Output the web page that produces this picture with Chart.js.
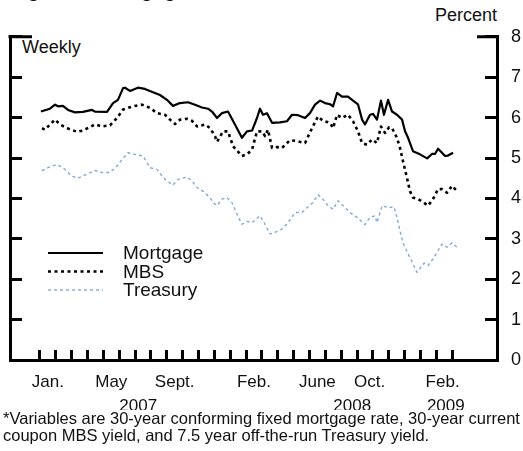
<!DOCTYPE html>
<html>
<head>
<meta charset="utf-8">
<script src="https://cdn.jsdelivr.net/npm/chart.js@4.4.1/dist/chart.umd.min.js"></script>
<style>
  html, body { margin: 0; padding: 0; background: #fff; }
  body { width: 523px; height: 451px; overflow: hidden; position: relative; font-family: "Liberation Sans", Arial, sans-serif; color: #111; }
  canvas { position: absolute; left: 0; top: 0; }
  .txt { position: absolute; white-space: nowrap; }
  #title { left: 10px; top: -21px; font-size: 21px; line-height: 21px; }
  #percent { left: 435px; top: 6px; font-size: 18px; line-height: 18px; }
  #weekly { left: 22px; top: 38px; font-size: 18px; line-height: 18px; }
  #note { left: 0; top: 410px; width: 520px; padding-left: 3px; background: #fff; font-size: 16.5px; line-height: 17px; }
</style>
</head>
<body>
<div class="txt" id="title">Figure 4: Mortgage Rates*</div>
<div class="txt" id="percent">Percent</div>
<div class="txt" id="weekly">Weekly</div>
<canvas id="chart" width="523" height="451"></canvas>
<div class="txt" id="note">*Variables are 30-year conforming fixed mortgage rate, 30-year current<br>coupon MBS yield, and 7.5 year off-the-run Treasury yield.</div>
<script>
const mortgageMonths = [0.06, 0.63, 0.95, 1.14, 1.45, 1.77, 2.21, 2.71, 3.28, 3.47, 4.23, 4.61, 4.92, 5.24, 5.36, 5.68, 6.18, 6.62, 7.13, 7.57,
  8.01, 8.39, 8.83, 9.34, 9.78, 10.22, 10.60, 10.85, 11.17, 11.48, 11.86, 12.30, 12.74, 13.06, 13.38, 13.69, 13.88, 14.07, 14.32, 14.64,
  15.14, 15.58, 15.90, 16.28, 16.72, 17.03, 17.35, 17.67, 17.98, 18.30, 18.49, 18.74, 19.05, 19.43, 19.75, 20.06, 20.32, 20.50, 20.82, 21.01,
  21.26, 21.51, 21.70, 21.96, 22.21, 22.52, 22.84, 23.03, 23.22, 23.53, 23.97, 24.42, 24.73, 24.92, 25.11, 25.36, 25.55, 25.74, 26.06];
const mortgageRate = [6.15, 6.22, 6.32, 6.28, 6.29, 6.19, 6.13, 6.14, 6.19, 6.15, 6.14, 6.36, 6.44, 6.73, 6.74, 6.66, 6.74, 6.71, 6.63, 6.56,
  6.44, 6.29, 6.36, 6.38, 6.32, 6.25, 6.22, 6.15, 5.99, 6.11, 6.15, 5.83, 5.50, 5.66, 5.68, 5.99, 6.22, 6.07, 6.11, 5.87,
  5.88, 5.91, 6.07, 6.06, 5.99, 6.11, 6.32, 6.42, 6.36, 6.33, 6.28, 6.61, 6.52, 6.52, 6.42, 6.33, 5.95, 5.83, 6.07, 6.09,
  5.95, 6.42, 6.07, 6.44, 6.15, 6.07, 5.95, 5.66, 5.50, 5.17, 5.09, 4.99, 5.10, 5.10, 5.23, 5.13, 5.05, 5.06, 5.13];

const mbsMonths = [0.13, 0.32, 0.63, 0.95, 1.26, 1.77, 2.33, 2.71, 3.47, 3.91, 4.42, 4.86, 5.24, 5.87, 6.44, 6.94, 7.38, 7.89, 8.20, 8.52,
  8.83, 9.27, 9.59, 9.91, 10.41, 10.73, 11.04, 11.17, 11.55, 11.86, 12.18, 12.74, 13.06, 13.38, 13.69, 14.01, 14.20, 14.38, 14.64, 14.95,
  15.27, 15.77, 16.21, 16.72, 17.16, 17.54, 17.85, 18.30, 18.49, 18.74, 19.05, 19.43, 19.75, 20.06, 20.32, 20.63, 20.95, 21.26, 21.51, 21.77,
  22.02, 22.21, 22.52, 22.71, 22.90, 23.15, 23.34, 23.53, 23.85, 24.16, 24.48, 24.79, 25.11, 25.36, 25.68, 25.99, 26.31];
const mbsYield = [5.74, 5.70, 5.83, 5.95, 5.83, 5.73, 5.65, 5.68, 5.83, 5.78, 5.81, 5.99, 6.20, 6.28, 6.32, 6.24, 6.11, 6.07, 5.95, 5.84,
  5.95, 5.97, 5.92, 5.78, 5.83, 5.74, 5.54, 5.40, 5.66, 5.66, 5.29, 5.05, 5.09, 5.21, 5.66, 5.66, 5.54, 5.70, 5.25, 5.27,
  5.25, 5.44, 5.42, 5.37, 5.74, 6.03, 5.92, 5.87, 5.74, 6.07, 5.99, 6.07, 5.91, 5.66, 5.37, 5.33, 5.46, 5.37, 5.78, 5.62,
  5.76, 5.74, 5.50, 5.25, 4.92, 4.51, 4.18, 4.02, 3.98, 3.91, 3.82, 3.98, 4.23, 4.23, 4.14, 4.31, 4.18];

const treasuryMonths = [0.13, 0.50, 1.07, 1.45, 2.02, 2.40, 2.97, 3.47, 3.91, 4.42, 4.86, 5.17, 5.55, 5.99, 6.50, 6.94, 7.38, 7.70, 8.01, 8.39,
  8.71, 9.27, 9.59, 9.91, 10.28, 10.73, 10.91, 11.17, 11.48, 11.80, 12.11, 12.43, 12.74, 13.06, 13.38, 13.88, 14.20, 14.51, 14.83, 15.27,
  15.65, 16.09, 16.53, 16.85, 17.22, 17.54, 17.85, 18.17, 18.49, 18.80, 19.12, 19.56, 20.00, 20.50, 20.82, 21.14, 21.26, 21.58, 21.96, 22.33,
  22.52, 22.71, 22.90, 23.22, 23.53, 23.79, 23.97, 24.23, 24.48, 24.79, 25.05, 25.36, 25.68, 25.99, 26.31];
const treasuryYield = [4.68, 4.76, 4.84, 4.76, 4.55, 4.50, 4.60, 4.69, 4.64, 4.64, 4.80, 4.96, 5.13, 5.09, 5.05, 4.76, 4.72, 4.55, 4.43, 4.33,
  4.47, 4.53, 4.43, 4.27, 4.18, 4.02, 3.90, 3.82, 3.98, 4.02, 3.90, 3.61, 3.36, 3.43, 3.40, 3.57, 3.36, 3.12, 3.16, 3.24,
  3.40, 3.65, 3.65, 3.77, 3.90, 4.09, 3.98, 3.82, 3.73, 3.94, 3.82, 3.65, 3.53, 3.35, 3.53, 3.57, 3.40, 3.82, 3.77, 3.79,
  3.53, 3.20, 2.90, 2.63, 2.38, 2.17, 2.26, 2.40, 2.34, 2.50, 2.67, 2.87, 2.79, 2.90, 2.79];

// month boundaries (tick marks) and axis labels
const monthTicks = Array.from({ length: 27 }, (_, i) => i);
const monthLabels = ['Jan.', 'May', 'Sept.', 'Feb.', 'June', 'Oct.', 'Feb.'];
const monthLabelPos = [0.5, 4.5, 8.5, 13.5, 17.5, 20.8, 25.4];
const yearLabels = ['2007', '2008', '2009'];
const yearLabelPos = [6.2, 19.7, 25.6];

const toPoints = (xs, ys) => xs.map((x, i) => ({ x: x, y: ys[i] }));

const xMin = -1.89, xMax = 28.83;
const ink = '#111';
const font = '"Liberation Sans", Arial, sans-serif';

const frameCorners = {
  id: 'frameCorners',
  afterDraw(chart) {
    const { ctx, chartArea: a } = chart;
    ctx.save();
    ctx.strokeStyle = '#000';
    ctx.lineWidth = 3;
    ctx.beginPath();
    ctx.moveTo(a.left - 1.5, a.top); ctx.lineTo(a.left + 22, a.top);
    ctx.moveTo(a.right - 20, a.top); ctx.lineTo(a.right + 1.5, a.top);
    ctx.stroke();
    ctx.restore();
  }
};

const insetLegend = {
  id: 'insetLegend',
  afterDraw(chart) {
    const ctx = chart.ctx;
    ctx.save();
    ctx.font = '19px ' + font;
    ctx.textBaseline = 'middle';
    ctx.fillStyle = ink;
    chart.data.datasets.forEach((ds, i) => {
      const y = 253 + i * 18.5;
      ctx.strokeStyle = ds.borderColor;
      ctx.lineWidth = ds.borderWidth;
      ctx.setLineDash(ds.borderDash || []);
      ctx.beginPath();
      ctx.moveTo(48, y);
      ctx.lineTo(103, y);
      ctx.stroke();
      ctx.fillText(ds.label, 123, y + 1);
    });
    ctx.restore();
  }
};

const tickAxis = (positions) => (s) => { s.ticks = positions.map(v => ({ value: v })); };

new Chart(document.getElementById('chart'), {
  type: 'line',
  data: {
    datasets: [
      { label: 'Mortgage', data: toPoints(mortgageMonths, mortgageRate), borderColor: '#000', borderWidth: 2.2 },
      { label: 'MBS', data: toPoints(mbsMonths, mbsYield), borderColor: '#000', borderWidth: 2.6, borderDash: [3, 3.5] },
      { label: 'Treasury', data: toPoints(treasuryMonths, treasuryYield), borderColor: '#80a9dc', borderWidth: 1.4, borderDash: [3, 3] }
    ]
  },
  options: {
    responsive: false,
    animation: false,
    devicePixelRatio: 1,
    layout: { padding: { top: 35, left: 10, right: 0, bottom: 0 } },
    elements: { point: { radius: 0 }, line: { tension: 0, borderJoinStyle: 'round' } },
    plugins: { legend: { display: false }, tooltip: { enabled: false } },
    scales: {
      x: {
        type: 'linear', position: 'bottom', weight: 0, min: xMin, max: xMax,
        afterBuildTicks: tickAxis(monthTicks),
        afterFit: s => { s.height = 0; },
        ticks: { display: false },
        grid: { drawOnChartArea: false, tickLength: -10, tickWidth: 3, tickColor: '#000' },
        border: { display: true, color: '#000', width: 3 }
      },
      xMonths: {
        type: 'linear', position: 'bottom', weight: 1, min: xMin, max: xMax,
        afterBuildTicks: tickAxis(monthLabelPos),
        afterFit: s => { s.height = 36; },
        ticks: { autoSkip: false, maxRotation: 0, padding: 12, color: ink, font: { family: font, size: 17 },
                 callback: (v, i) => monthLabels[i] },
        grid: { display: false, drawTicks: false },
        border: { display: false }
      },
      xYears: {
        type: 'linear', position: 'bottom', weight: 2, min: xMin, max: xMax,
        afterBuildTicks: tickAxis(yearLabelPos),
        afterFit: s => { s.height = 55; },
        ticks: { autoSkip: false, maxRotation: 0, padding: 0, color: ink, font: { family: font, size: 17 },
                 callback: (v, i) => yearLabels[i] },
        grid: { display: false, drawTicks: false },
        border: { display: false }
      },
      yLeft: {
        type: 'linear', position: 'left', min: 0, max: 8,
        afterFit: s => { s.width = 0; },
        ticks: { display: false, stepSize: 1 },
        grid: { drawOnChartArea: false, tickLength: -12, tickWidth: 3, tickColor: '#000' },
        border: { display: true, color: '#000', width: 3 }
      },
      y: {
        type: 'linear', position: 'right', min: 0, max: 8,
        afterFit: s => { s.width = 26; },
        ticks: { stepSize: 1, autoSkip: false, padding: 26, color: ink, font: { family: font, size: 18 } },
        grid: { drawOnChartArea: false, tickLength: -12, tickWidth: 3, tickColor: '#000' },
        border: { display: true, color: '#000', width: 3 }
      }
    }
  },
  plugins: [frameCorners, insetLegend]
});
</script>
</body>
</html>
